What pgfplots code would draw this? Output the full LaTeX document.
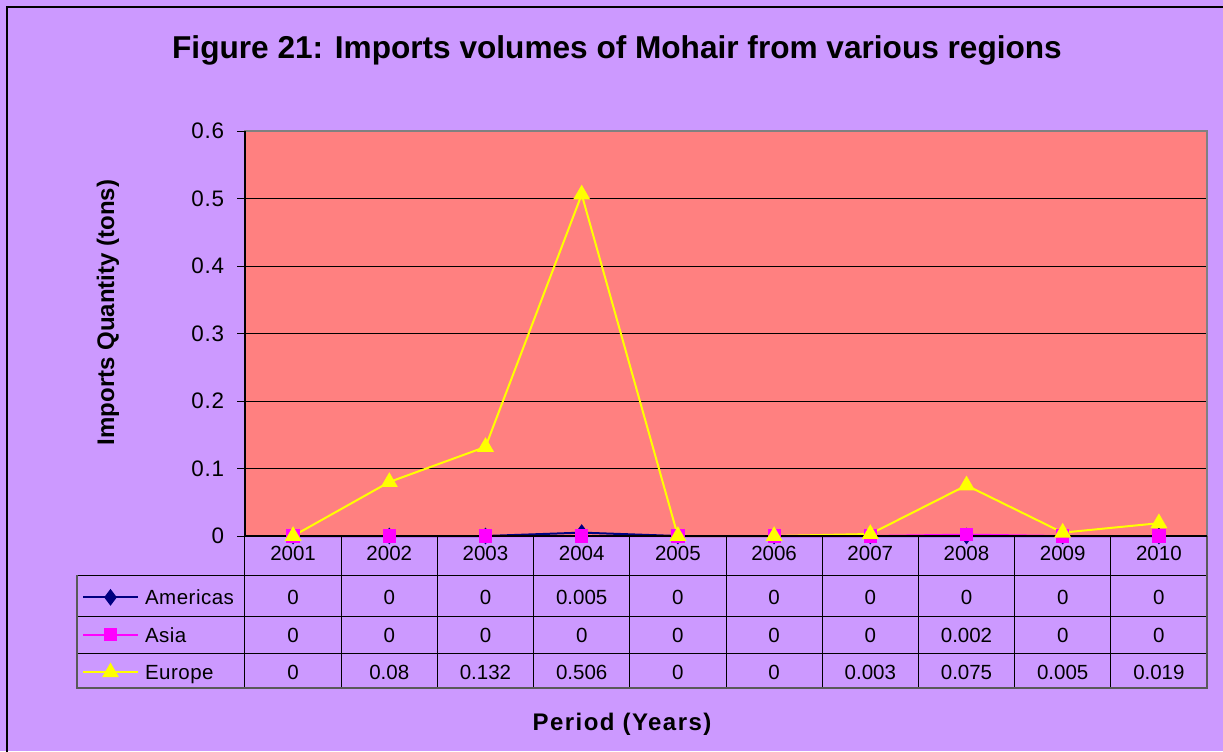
\documentclass[border=0pt]{standalone}
\usepackage{fontspec}
\setmainfont{Liberation Sans}
\newfontfamily\tickfont[LetterSpace=3]{Liberation Sans}
\newfontfamily\xlabfont[LetterSpace=6]{Liberation Sans}
\newfontfamily\legfam[LetterSpace=2.5]{Liberation Sans}
\usepackage{pgfplots}
\usepackage{pgfplotstable}
\pgfplotsset{compat=1.18}
\definecolor{bgpurple}{HTML}{CC99FF}
\definecolor{plotpink}{HTML}{FF8080}
\definecolor{amnavy}{HTML}{000080}
\definecolor{asmag}{HTML}{FF00FF}
\definecolor{euyel}{HTML}{FFFF00}
\pgfplotstableread{
year am as eu
2001 0 0 0
2002 0 0 0.08
2003 0 0 0.132
2004 0.005 0 0.506
2005 0 0 0
2006 0 0 0
2007 0 0 0.003
2008 0 0.002 0.075
2009 0 0 0.005
2010 0 0 0.019
}\imports
\newcommand\tabfont{\fontsize{10.25}{12}\selectfont}
\newcommand\legfont{\legfam\fontsize{10.25}{12}\selectfont}
\begin{document}
\begin{tikzpicture}
\fill[bgpurple] (0,0) rectangle (611.5pt,-375.5pt);
\path[use as bounding box] (0,0) rectangle (611.5pt,-375.5pt);
\draw[black, line width=1pt] (3.5pt,-380pt) -- (3.5pt,-3.5pt) -- (620pt,-3.5pt);
\node[anchor=base, font=\fontsize{15.8}{18}\selectfont\bfseries] at (308.5pt,-29pt) {Figure 21: Imports volumes of Mohair from various regions};
\node[anchor=base, rotate=90, font=\fontsize{12}{14}\selectfont\bfseries] at (57pt,-156.25pt) {Imports Quantity (tons)};
\node[anchor=base, font=\xlabfont\fontsize{12}{14}\selectfont\bfseries] at (311pt,-365.3pt) {Period (Years)};
\begin{axis}[
  at={(122.5pt,-268pt)}, anchor=south west,
  scale only axis, width=481pt, height=202.5pt,
  xmin=2000.5, xmax=2010.5, ymin=0, ymax=0.6,
  xtick=\empty,
  ytick={0,0.1,0.2,0.3,0.4,0.5,0.6},
  ytick pos=left,
  axis background/.style={fill=plotpink},
  axis line style={draw=gray, line width=0.8pt},
  ymajorgrids, grid style={black, line width=0.5pt},
  tick align=outside, major tick length=4pt,
  tick style={black, line width=0.5pt},
  /pgf/number format/assume math mode=true,
  yticklabel style={font=\tickfont\fontsize{11.2}{13}\selectfont, xshift=-3pt, /pgf/number format/fixed, /pgf/number format/precision=1},
  clip=false,
  legend image code/.code={\draw[mark repeat=2,mark phase=2,#1] plot coordinates {(0pt,0pt) (13.75pt,0pt) (27.5pt,0pt)};},
  legend cell align=left,
  legend style={at={(-0.16944,-0.10506)}, anchor=north west, draw=none, fill=none,
    inner sep=0pt, outer sep=0pt, row sep=0pt, font=\legfont,
    nodes={inner sep=0pt, minimum height=18.75pt, text height=7.3pt, text depth=0pt},
    /tikz/every odd column/.append style={column sep=3pt}},
]
\addplot[amnavy, line width=1pt, mark=diamond*, mark size=3.4pt, mark options={solid, fill=amnavy, draw=amnavy}] table[x=year, y=am] {\imports};
\addlegendentry{Americas}
\addplot[asmag, line width=1pt, mark=square*, mark size=2.8pt, mark options={solid, fill=asmag, draw=asmag}] table[x=year, y=as] {\imports};
\addlegendentry{Asia}
\addplot[euyel, line width=1pt, mark=triangle*, mark size=3.9pt, mark options={solid, fill=euyel, draw=euyel}] table[x=year, y=eu] {\imports};
\addlegendentry{Europe}
% table text
\addplot[draw=none, forget plot, nodes near coords, point meta=explicit symbolic,
  every node near coord/.append style={anchor=center, font=\tabfont, inner sep=0pt}]
  table[x=year, y expr=-0.02622, meta=year] {\imports};
\addplot[draw=none, forget plot, nodes near coords, point meta=explicit symbolic,
  every node near coord/.append style={anchor=center, font=\tabfont, inner sep=0pt}]
  table[x=year, y expr=-0.09081, meta=am] {\imports};
\addplot[draw=none, forget plot, nodes near coords, point meta=explicit symbolic,
  every node near coord/.append style={anchor=center, font=\tabfont, inner sep=0pt}]
  table[x=year, y expr=-0.14667, meta=as] {\imports};
\addplot[draw=none, forget plot, nodes near coords, point meta=explicit symbolic,
  every node near coord/.append style={anchor=center, font=\tabfont, inner sep=0pt}]
  table[x=year, y expr=-0.20193, meta=eu] {\imports};
% table grid
\pgfplotsinvokeforeach{2001.5,2002.5,2003.5,2004.5,2005.5,2006.5,2007.5,2008.5,2009.5}{
  \draw[black, line width=0.5pt] (axis cs:#1,0) -- (axis cs:#1,-0.22519);
}
\draw[black, line width=0.5pt] (axis cs:1998.754,-0.05778) -- (axis cs:2010.5,-0.05778);
\draw[black, line width=0.5pt] (axis cs:1998.754,-0.11852) -- (axis cs:2010.5,-0.11852);
\draw[black, line width=0.5pt] (axis cs:1998.754,-0.17333) -- (axis cs:2010.5,-0.17333);
\draw[black, line width=0.5pt] (axis cs:2000.5,0) -- (axis cs:2000.5,-0.22519);
\draw[black!65, line width=0.9pt] (axis cs:1998.754,-0.05778) -- (axis cs:1998.754,-0.22519) -- (axis cs:2010.5,-0.22519) -- (axis cs:2010.5,0);
\draw[black, line width=0.6pt] (rel axis cs:0,1) -- (rel axis cs:0,0) -- (rel axis cs:1,0);
\end{axis}
\end{tikzpicture}
\end{document}
